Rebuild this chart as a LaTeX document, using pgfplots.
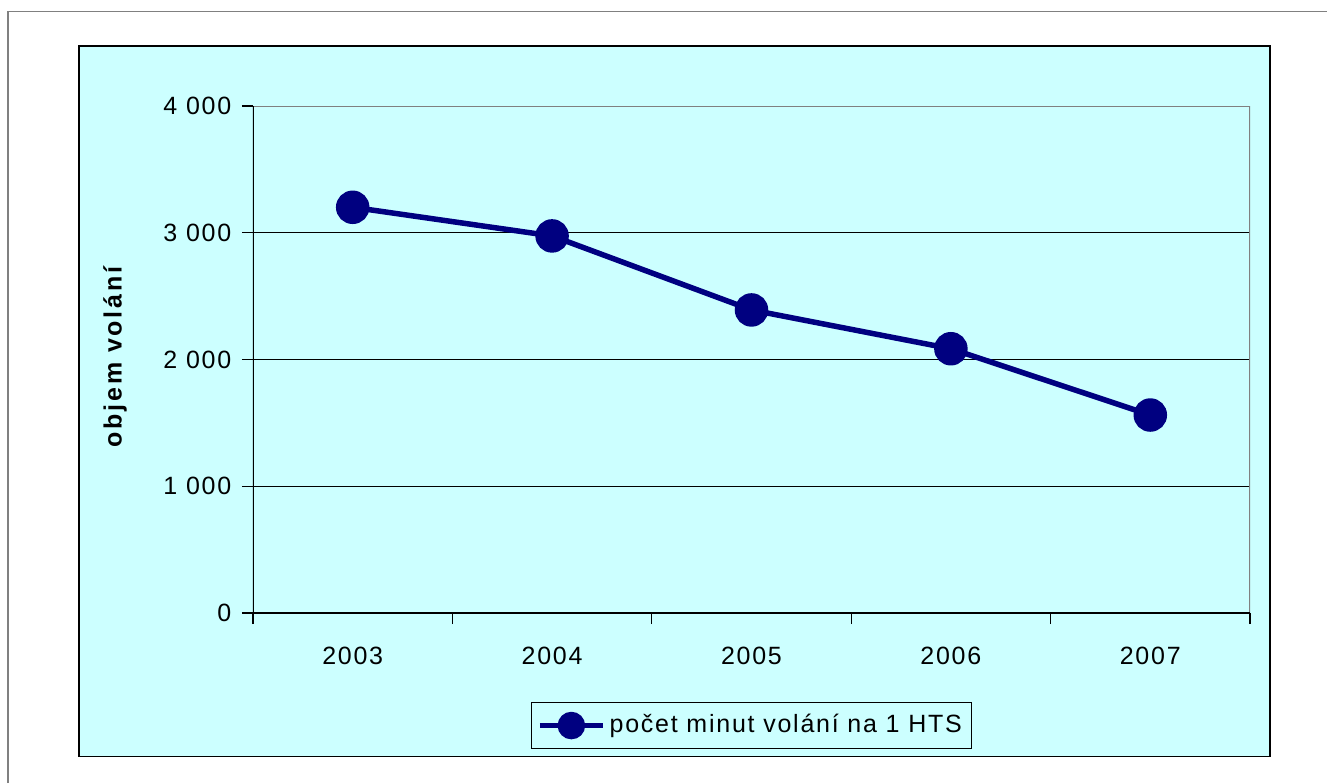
\documentclass[border=0pt]{standalone}
\usepackage{pgfplots}
\pgfplotsset{compat=1.18}
\usepackage{fontspec}
\setmainfont{Liberation Sans}[LetterSpace=7]
\definecolor{navyline}{HTML}{000080}
\definecolor{areabg}{HTML}{CCFFFF}
\begin{document}
\fontsize{12.5}{15}\selectfont
\begin{tikzpicture}
% page is 1327x783 px, 1 px = 0.5pt, origin at the axis corner (253,613)
\useasboundingbox (-126.5pt,-85pt) rectangle (537pt,306.5pt);
\draw[gray, line width=0.8pt] (-122.5pt,-85pt) -- (-122.5pt,300.75pt) -- (537pt,300.75pt);
\draw[black, line width=0.8pt, fill=areabg] (-87pt,-71.75pt) rectangle (508.5pt,283.5pt);
\begin{axis}[
    at={(0pt,0pt)}, anchor=south west,
    scale only axis,
    width=498.5pt, height=253.5pt,
    xmin=-0.5, xmax=4.5,
    ymin=0, ymax=4000,
    xtick={-0.5,0.5,1.5,2.5,3.5,4.5},
    x tick label as interval,
    xticklabels={2003,2004,2005,2006,2007},
    xticklabel style={yshift=-7pt},
    yticklabel style={xshift=-1pt},
    ytick={0,1000,2000,3000,4000},
    xtick pos=bottom, ytick pos=left,
    tick align=outside,
    major tick length=5.5pt,
    tick style={black, line width=0.6pt},
    axis line style={draw=none},
    ymajorgrids,
    grid style={black, line width=0.5pt},
    /pgf/number format/assume math mode=true,
    /pgf/number format/1000 sep={\ },
    every axis y label/.style={at={(axis description cs:-0.1384,0.505)}, rotate=90, anchor=center,
        font=\bfseries\addfontfeature{LetterSpace=11}},
    ylabel={objem volání},
    legend style={at={(axis description cs:0.5,-0.222)}, anchor=center,
        draw=black, line width=0.6pt, fill=areabg, inner xsep=3pt, inner ysep=4pt,
        nodes={inner sep=2pt}},
    legend image code/.code={\draw[mark repeat=2,mark phase=2,#1,mark size=5.5pt] plot coordinates {(0pt,0pt) (15.75pt,0pt) (31.5pt,0pt)};},
]
\addplot[navyline, line width=2.75pt, mark=*, mark size=7pt, mark options={fill=navyline, draw=navyline}]
    coordinates {(0,3201) (1,2975) (2,2391) (3,2085) (4,1562)};
\addlegendentry{počet minut volání na 1 HTS}
\draw[gray, line width=1pt] (axis cs:-0.5,4000) -- (axis cs:4.5,4000) -- (axis cs:4.5,0);
\draw[black, line width=0.7pt] (axis cs:-0.5,4000) -- (axis cs:-0.5,0) -- (axis cs:4.5,0);
\end{axis}
\end{tikzpicture}
\end{document}
